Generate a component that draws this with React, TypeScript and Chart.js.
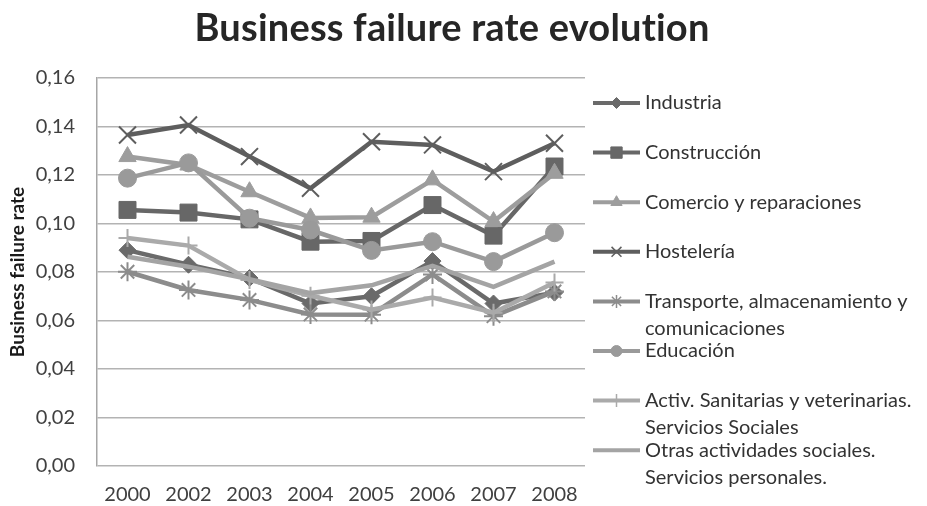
import React, { useEffect, useRef } from 'react';
import { Chart, registerables } from 'chart.js';
import { drawPoint } from 'chart.js/helpers';

Chart.register(...registerables);

const TITLE = 'Business failure rate evolution';
const Y_TITLE = 'Business failure rate';

const years = ['2000', '2002', '2003', '2004', '2005', '2006', '2007', '2008'];

const industria = [0.089, 0.083, 0.0775, 0.067, 0.07, 0.0845, 0.067, 0.0715];
const construccion = [0.1056, 0.1045, 0.1017, 0.0925, 0.0928, 0.1076, 0.095, 0.1235];
const comercio = [0.1276, 0.1241, 0.1131, 0.1023, 0.1026, 0.118, 0.1008, 0.1207];
const hosteleria = [0.1365, 0.1406, 0.1276, 0.1145, 0.1337, 0.1324, 0.1214, 0.1331];
const transporte = [0.0801, 0.0726, 0.0685, 0.0625, 0.0624, 0.079, 0.0618, 0.072];
const educacion = [0.1187, 0.125, 0.1022, 0.0973, 0.0889, 0.0925, 0.0843, 0.0962];
const sanitarias = [0.094, 0.0909, 0.0767, 0.0702, 0.0645, 0.0695, 0.0632, 0.0757];
const otras = [0.0863, 0.0822, 0.077, 0.0713, 0.0745, 0.0825, 0.0739, 0.0843];

const seriesLabels: string[][] = [
  ['Industria'],
  ['Construcción'],
  ['Comercio y reparaciones'],
  ['Hostelería'],
  ['Transporte, almacenamiento y', 'comunicaciones'],
  ['Educación'],
  ['Activ. Sanitarias y veterinarias.', 'Servicios Sociales'],
  ['Otras actividades sociales.', 'Servicios personales.'],
];
const seriesData = [industria, construccion, comercio, hosteleria, transporte, educacion, sanitarias, otras];
const seriesColors = ['#6a6a6a', '#676767', '#9d9d9d', '#5e5e5e', '#8c8c8c', '#9a9a9a', '#aaaaaa', '#a4a4a4'];
const seriesStyles = ['rectRot', 'rect', 'triangle', 'crossRot', 'star', 'circle', 'cross', 'none'];
const seriesRadius = [8.5, 12, 10, 12, 9.5, 9, 9, 0];
const legendRadius = [5.5, 8, 6.5, 7, 6.5, 5.5, 6.5, 0];

const yMin = 0;
const yMax = 0.16;
const yStep = 0.02;

const FONT = 'Lato';

const isStroked = (s: string) => s === 'cross' || s === 'crossRot' || s === 'star';

const titlePlugin = {
  id: 'customTitle',
  afterDraw(chart: any) {
    const ctx = chart.ctx;
    ctx.save();
    ctx.font = `bold 38px ${FONT}`;
    try { (ctx as any).letterSpacing = '0.2px'; } catch (e) {}
    ctx.fillStyle = '#262626';
    ctx.textAlign = 'center';
    ctx.textBaseline = 'alphabetic';
    ctx.fillText(TITLE, 452, 41);
    ctx.restore();
  },
};

const legendPlugin = {
  id: 'customLegend',
  afterDraw(chart: any) {
    const ctx = chart.ctx;
    ctx.save();
    seriesLabels.forEach((lines, i) => {
      const y = 103 + i * 49.6;
      const color = seriesColors[i];
      ctx.strokeStyle = color;
      ctx.lineWidth = 4;
      ctx.lineCap = 'butt';
      ctx.beginPath();
      ctx.moveTo(593, y);
      ctx.lineTo(640, y);
      ctx.stroke();
      const style = seriesStyles[i];
      if (style !== 'none') {
        ctx.fillStyle = color;
        ctx.strokeStyle = color;
        ctx.lineWidth = isStroked(style) ? 1.5 : 1;
        drawPoint(ctx, { pointStyle: style as any, rotation: 0, radius: legendRadius[i], borderWidth: ctx.lineWidth }, 616.5, y);
      }
      ctx.fillStyle = '#333333';
      ctx.font = `20px ${FONT}`;
      ctx.textAlign = 'left';
      ctx.textBaseline = 'middle';
      lines.forEach((t, k) => ctx.fillText(t, 645, y + k * 27));
    });
    ctx.restore();
  },
};

export default function App() {
  const ref = useRef<HTMLCanvasElement>(null);
  useEffect(() => {
    if (!ref.current) return;
    const chart = new Chart(ref.current, {
      type: 'line',
      data: {
        labels: years,
        datasets: seriesData.map((d, i) => ({
          label: seriesLabels[i].join(' '),
          data: d,
          borderColor: seriesColors[i],
          backgroundColor: seriesColors[i],
          borderWidth: 4.5,
          tension: 0,
          fill: false,
          pointStyle: seriesStyles[i] === 'none' ? false : (seriesStyles[i] as any),
          pointRadius: seriesRadius[i],
          pointBorderWidth: isStroked(seriesStyles[i]) ? 2 : 1,
          pointBackgroundColor: seriesColors[i],
          pointBorderColor: seriesColors[i],
          order: 8 - i,
        })),
      },
      options: {
        responsive: false,
        animation: false,
        layout: { padding: { top: 78, right: 342, bottom: 0, left: 0 } },
        plugins: {
          legend: { display: false },
          title: { display: false },
          tooltip: { enabled: false },
        },
        scales: {
          x: {
            offset: true,
            grid: { display: false, drawTicks: false, offset: true },
            border: { display: false },
            ticks: { font: { family: FONT, size: 20 }, color: '#404040', padding: 17, autoSkip: false, maxRotation: 0 },
            afterFit: (s: any) => { s.height = 40; },
          },
          y: {
            min: yMin,
            max: yMax,
            ticks: {
              stepSize: yStep,
              padding: 22,
              font: { family: FONT, size: 20 },
              color: '#404040',
              callback: (v: any) => Number(v).toFixed(2).replace('.', ','),
            },
            grid: { color: '#b3b3b3', lineWidth: 1.5, drawTicks: false },
            border: { display: true, color: '#a6a6a6', width: 1.5 },
            title: {
              display: true,
              text: Y_TITLE,
              font: { family: FONT, size: 19, weight: 'bold' },
              color: '#1a1a1a',
              padding: { top: 6, bottom: 0 },
            },
            afterFit: (s: any) => { s.width = 97; },
          },
        },
      },
      plugins: [titlePlugin, legendPlugin],
    });
    return () => chart.destroy();
  }, []);
  return (
    <div style={{ position: 'fixed', left: 0, top: 0, width: 927, height: 506, background: '#ffffff' }}>
      <canvas ref={ref} width={927} height={506} style={{ width: 927, height: 506, display: 'block' }} />
    </div>
  );
}
